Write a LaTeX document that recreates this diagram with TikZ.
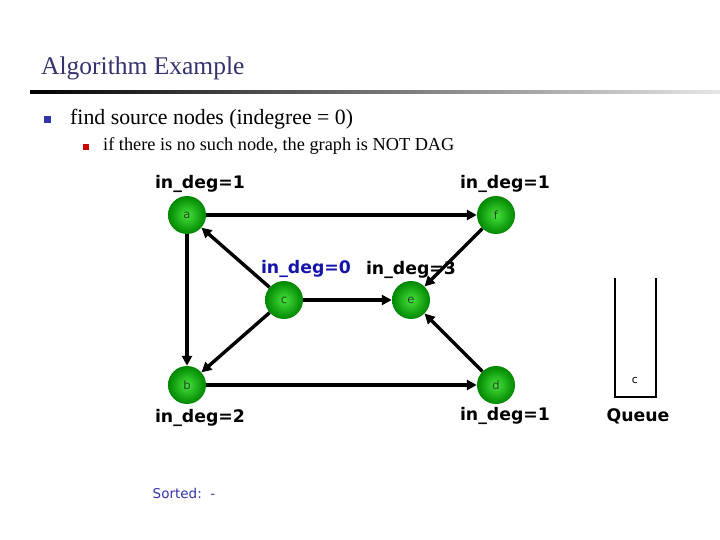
\documentclass[tikz,border=0pt]{standalone}
\usepackage{fontspec}
\setmainfont{Liberation Serif}
\setsansfont{DejaVu Sans}
\usetikzlibrary{arrows.meta}
\definecolor{titleblue}{RGB}{51,51,110}
\definecolor{bulletblue}{RGB}{51,51,170}
\definecolor{bulletred}{RGB}{204,0,0}
\definecolor{degblue}{RGB}{20,20,170}
\definecolor{nodein}{RGB}{70,225,60}
\definecolor{nodeout}{RGB}{0,135,0}
\definecolor{nodetext}{RGB}{40,70,40}
\begin{document}
\begin{tikzpicture}[x=1pt,y=-1pt,
    vertex/.style={circle,minimum size=38pt,inner sep=0pt,inner color=nodein,outer color=nodeout,
        font=\sffamily\fontsize{11.5}{11.5}\selectfont,text=nodetext},
    deg/.style={font=\sffamily\bfseries\fontsize{17.3}{17.3}\selectfont,inner sep=0pt},
    edge/.style={line width=3.4pt,-{Triangle[length=10pt,width=10pt]}}]
        \useasboundingbox[fill=white] (0,0) rectangle (720,540);
        % title and rule
        \node[anchor=base west,inner sep=0pt,text=titleblue,font=\fontsize{25.5}{25.5}\selectfont] (title) at (41,75) {Algorithm Example};
        \shade[left color=black,right color=black!10] (30,90.5) rectangle (720,93.5);
        % bullets
        \fill[bulletblue] (44,116) rectangle (51,123);
        \node[anchor=base west,inner sep=0pt,font=\fontsize{21.8}{21.8}\selectfont] (b1) at (70,125) {find source nodes (indegree = 0)};
        \fill[bulletred] (83,144) rectangle (89,150);
        \node[anchor=base west,inner sep=0pt,font=\fontsize{18.3}{18.3}\selectfont] (b2) at (103,151) {if there is no such node, the graph is NOT DAG};
        % graph
        \node[vertex] (a) at (187,215) {a};
        \node[vertex] (f) at (496,215) {f};
        \node[vertex] (c) at (284,300) {c};
        \node[vertex] (e) at (411,300) {e};
        \node[vertex] (b) at (187,385) {b};
        \node[vertex] (d) at (496,385) {d};
        \draw[edge] (a) -- (f);
        \draw[edge] (a) -- (b);
        \draw[edge] (c) -- (a);
        \draw[edge] (c) -- (e);
        \draw[edge] (c) -- (b);
        \draw[edge] (f) -- (e);
        \draw[edge] (d) -- (e);
        \draw[edge] (b) -- (d);
        \node[deg,anchor=center] (da) at (200,184) {in\_deg=1};
        \node[deg,anchor=center] (df) at (505,184) {in\_deg=1};
        \node[deg,anchor=center,text=degblue] (dc) at (306,269) {in\_deg=0};
        \node[deg,anchor=center] (de) at (411,270) {in\_deg=3};
        \node[deg,anchor=center] (db) at (200,418) {in\_deg=2};
        \node[deg,anchor=center] (dd) at (505,416) {in\_deg=1};
        \node[anchor=center,inner sep=0pt,text=bulletblue,font=\sffamily\fontsize{13.5}{13.5}\selectfont] (sorted) at (184,493) {Sorted:\ \ -};
        % queue
        \draw[line width=2.6pt] (615,278) -- (615,397) -- (656,397) -- (656,278);
        \node[anchor=center,font=\sffamily\fontsize{11}{11}\selectfont] (qc) at (635,380) {c};
        \node[deg,anchor=center] (queue) at (638,416) {Queue};
    \end{tikzpicture}
\end{document}
